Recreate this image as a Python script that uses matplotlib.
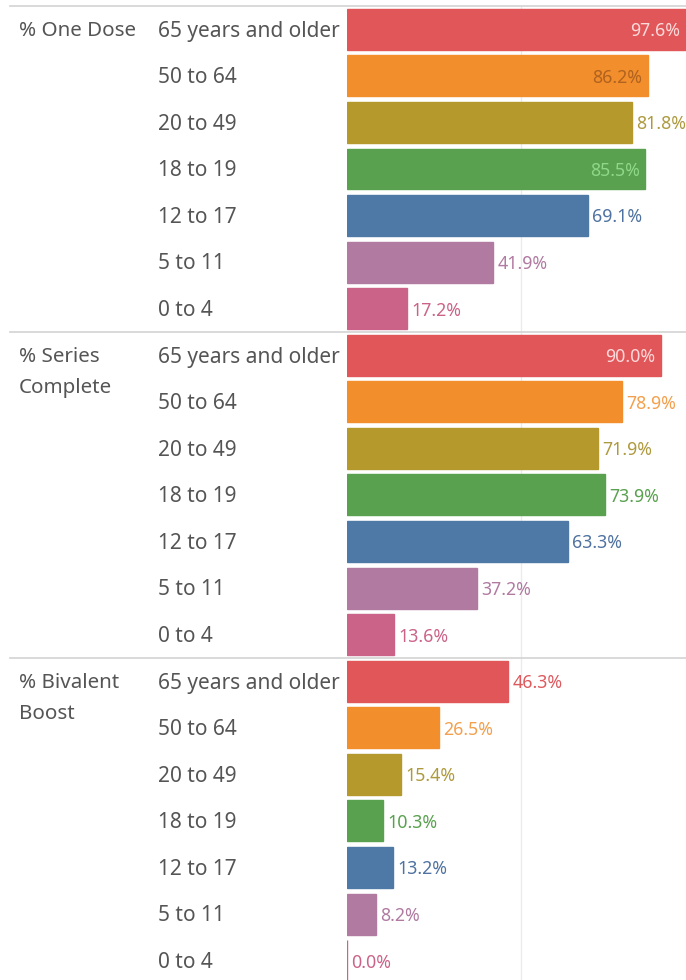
import matplotlib.pyplot as plt
from matplotlib.lines import Line2D
import matplotlib.transforms as mtransforms

plt.rcParams['font.family'] = ['Noto Sans', 'DejaVu Sans']

# vaccination coverage by age group (percent)
measures = ['% One Dose', '% Series\nComplete', '% Bivalent\nBoost']
ages = ['65 years and older', '50 to 64', '20 to 49', '18 to 19', '12 to 17', '5 to 11', '0 to 4']
one_dose = [97.6, 86.2, 81.8, 85.5, 69.1, 41.9, 17.2]
series_complete = [90.0, 78.9, 71.9, 73.9, 63.3, 37.2, 13.6]
bivalent_boost = [46.3, 26.5, 15.4, 10.3, 13.2, 8.2, 0.0]

bar_colors = ['#E15759', '#F28E2B', '#B6992D', '#59A14F', '#4E79A7', '#B07AA1', '#CB6389']
out_colors = ['#DD5A5F', '#F3A04E', '#AE9A3E', '#59A14F', '#4F72A0', '#B07AA1', '#CB6389']
in_colors = ['#FBDADB', '#B0621F', '#B6992D', '#8FD889', '#A0CBE8', '#D4A6C8', '#FABFD2']

values = [one_dose, series_complete, bivalent_boost]

W, H = 686, 980
fig = plt.figure(figsize=(W / 100, H / 100), dpi=100)
row_px = 46.57
top_px = 6
n_rows = len(ages) * len(measures)
ax_left, ax_right = 347, 686
ax_bottom_px = top_px + n_rows * row_px
ax = fig.add_axes([ax_left / W, 1 - ax_bottom_px / H,
                   (ax_right - ax_left) / W, n_rows * row_px / H])

ax.set_xlim(0, 97.2)
ax.set_ylim(n_rows - 0.5, -0.5)
ax.axis('off')
ax.axvline(50, color='#ebebeb', lw=1, zorder=0)

text_gray = '#555555'
nudge = 0.04  # push text a little below the row centre
blend = mtransforms.blended_transform_factory(fig.transFigure, ax.transData)

for m, (name, vals) in enumerate(zip(measures, values)):
    base = m * len(ages)
    # panel separator
    fig.add_artist(Line2D([10 / W, 1], [base - 0.5, base - 0.5], transform=blend,
                          color='#d3d3d3', lw=1.2))
    for k, line in enumerate(name.split('\n')):
        ax.text(19 / W, base + k * 0.665 + nudge, line, transform=blend, ha='left',
                va='center', fontsize=14.8, color=text_gray)
    for i, (age, v) in enumerate(zip(ages, vals)):
        y = base + i
        ax.barh(y, v, height=0.88, color=bar_colors[i], edgecolor=bar_colors[i],
                lw=1, clip_on=True)
        ax.text(158 / W, y + nudge, age, transform=blend, ha='left', va='center',
                fontsize=15, color=text_gray)
        label = f'{v:.1f}%'
        if v > 84:
            ax.annotate(label, (min(v, 97.2), y + nudge), xytext=(-4, 0),
                        textcoords='offset points', ha='right', va='center',
                        fontsize=12.8, color=in_colors[i])
        else:
            ax.annotate(label, (v, y + nudge), xytext=(3, 0), textcoords='offset points',
                        ha='left', va='center', fontsize=12.8, color=out_colors[i])

fig.savefig('out.png', dpi=100)
